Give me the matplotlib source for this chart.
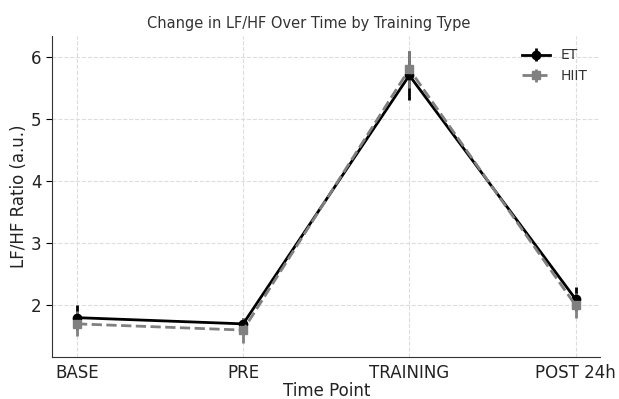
import matplotlib
matplotlib.use("Agg")
import matplotlib.pyplot as plt

time_points = ["BASE", "PRE", "TRAINING", "POST 24h"]
et_mean = [1.8, 1.7, 5.7, 2.1]
et_err = [0.2, 0.1, 0.4, 0.2]
hiit_mean = [1.7, 1.6, 5.8, 2.0]
hiit_err = [0.2, 0.2, 0.3, 0.2]

fig, ax = plt.subplots(figsize=(6.19, 3.99), dpi=100)
x = list(range(len(time_points)))

ax.errorbar(x, et_mean, yerr=et_err, fmt='o-', color='black', lw=2,
            markersize=6, elinewidth=2, capsize=0, label='ET')
ax.errorbar(x, hiit_mean, yerr=hiit_err, fmt='s--', color='#808080', lw=2,
            markersize=6, elinewidth=2, capsize=0, label='HIIT')

ax.legend(loc='upper right', frameon=False, fontsize=10, labelcolor='#333333')

ax.set_xticks(x)
ax.set_xticklabels(time_points)
ax.set_title("Change in LF/HF Over Time by Training Type", fontsize=10.5,
             color='#333333', x=(308 - 52) / 548)
ax.set_xlabel("Time Point", fontsize=12, labelpad=0, color='#222222')
ax.set_ylabel("LF/HF Ratio (a.u.)", fontsize=12, labelpad=2, color='#222222')
ax.tick_params(labelsize=12, labelcolor='#222222')
ax.tick_params(axis='x', length=0, pad=5)
ax.tick_params(axis='y', length=4)
ax.grid(True, linestyle='--', color='#dddddd', lw=0.8)
ax.set_axisbelow(True)
for s in ['top', 'right']:
    ax.spines[s].set_visible(False)
for s in ['left', 'bottom']:
    ax.spines[s].set_color('#333333')

fig.subplots_adjust(left=0.084, right=0.97, top=0.91, bottom=0.105)
fig.savefig("out.png", dpi=100)
